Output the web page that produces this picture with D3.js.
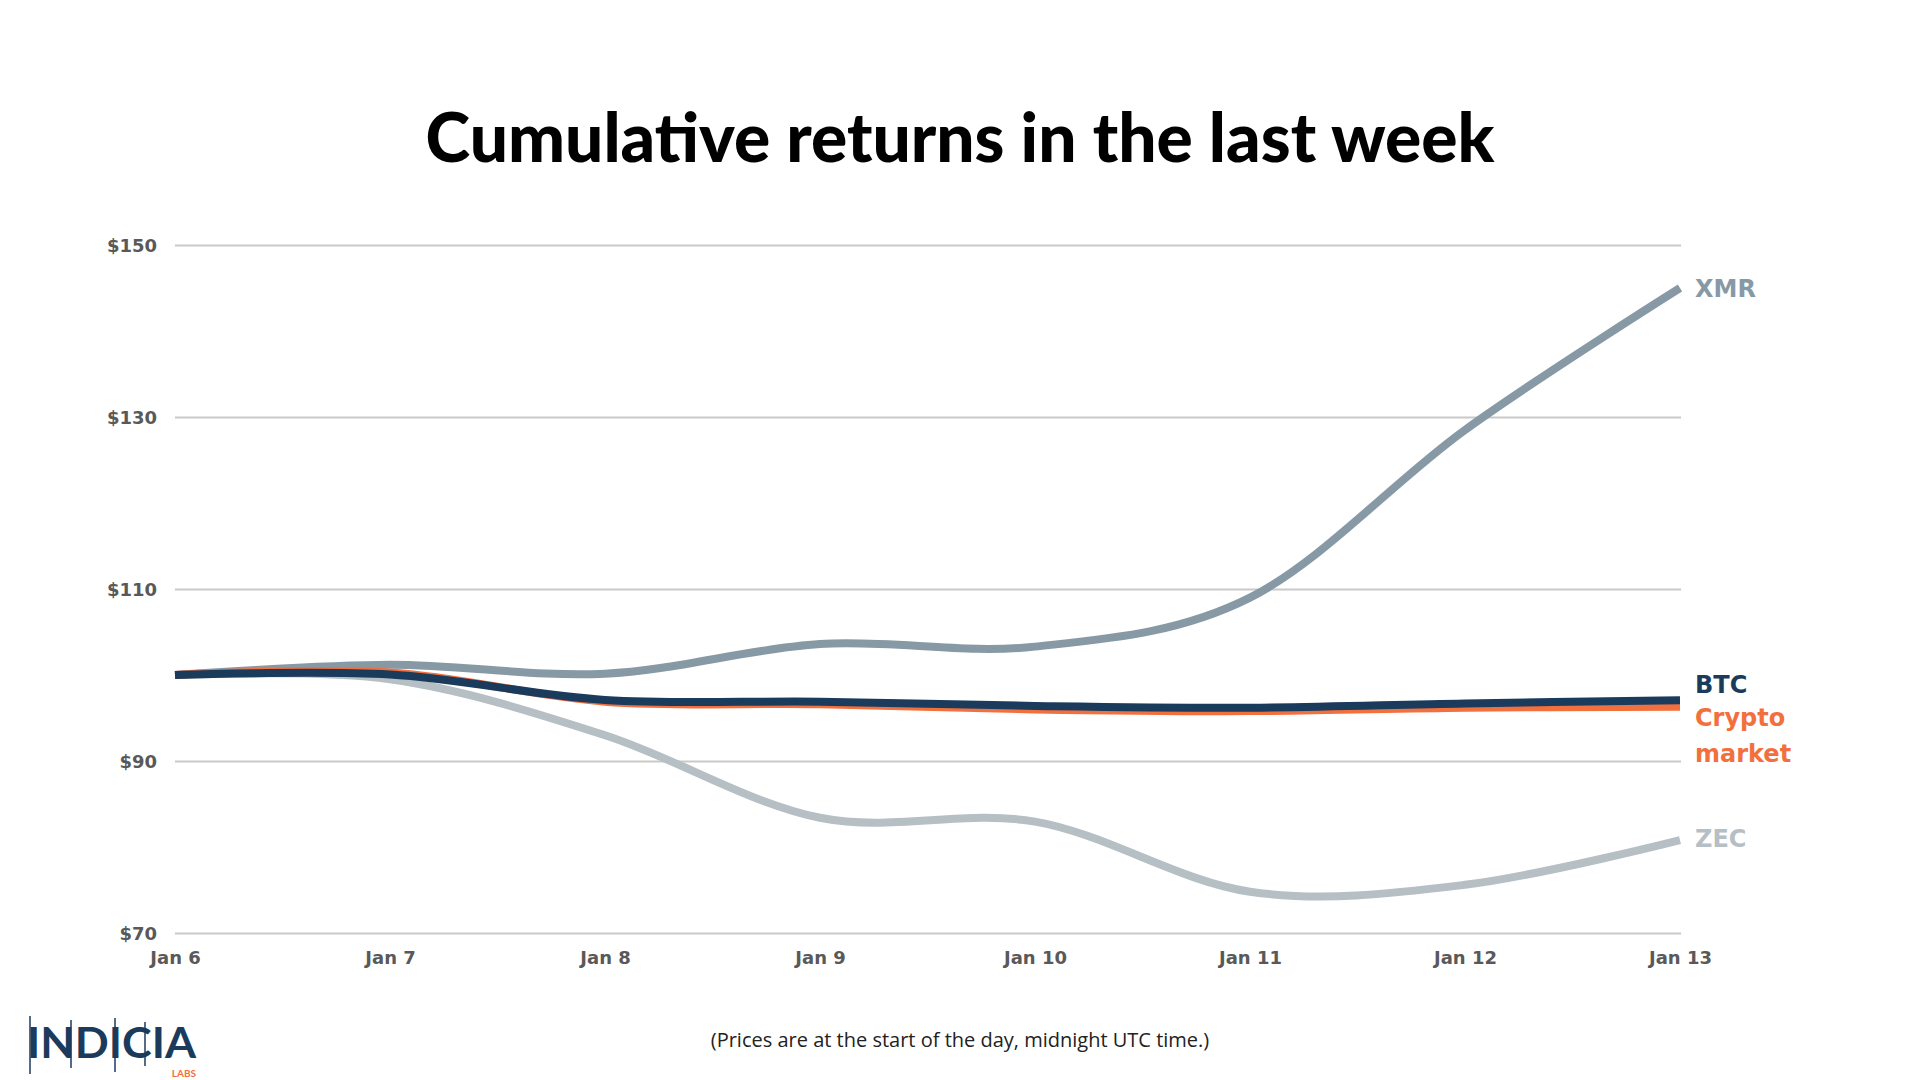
<!DOCTYPE html>
<html>
<head>
<meta charset="utf-8">
<script src="https://cdn.jsdelivr.net/npm/d3@7"></script>
<style>
  html, body { margin: 0; padding: 0; background: #ffffff; }
  svg { display: block; }
</style>
</head>
<body>
<svg id="chart" width="1920" height="1080"></svg>
<script>
// ---- data ----
const dates = ["Jan 6", "Jan 7", "Jan 8", "Jan 9", "Jan 10", "Jan 11", "Jan 12", "Jan 13"];
const xmrValues    = [100, 101.2, 100.15, 103.6, 103.3, 109.0, 128.5, 145.0];
const zecValues    = [100, 99.5, 93.0, 83.4, 82.95, 74.8, 75.6, 80.8];
const marketValues = [100, 100.3, 96.9, 96.6, 96.0, 95.8, 96.2, 96.3];
const btcValues    = [100, 100.05, 97.1, 96.9, 96.4, 96.2, 96.7, 97.05];
const yTicks = [70, 90, 110, 130, 150];
const seriesNames = ["ZEC", "XMR", "Crypto market", "BTC"];

const titleText = "Cumulative returns in the last week";
const footnoteText = "(Prices are at the start of the day, midnight UTC time.)";

(function () {
// ---- layout ----
const svg = d3.select("#chart");
const pLeft = 175, pRight = 1680, pTop = 245, pBottom = 933;

const x = d3.scalePoint().domain(dates).range([pLeft, pRight]);
const y = d3.scaleLinear().domain([70, 150]).range([pBottom, pTop]);

const colors = {
  "XMR": "#8899a6",
  "ZEC": "#b6bfc4",
  "Crypto market": "#f26f3e",
  "BTC": "#1b3b5d"
};
const valuesOf = {
  "XMR": xmrValues, "ZEC": zecValues, "Crypto market": marketValues, "BTC": btcValues
};

// title
const t = svg.append("text")
  .attr("x", 960).attr("y", 162)
  .attr("text-anchor", "middle")
  .style("font-family", "Lato, 'DejaVu Sans', sans-serif")
  .style("font-weight", 900)
  .style("font-size", "60px")
  .attr("fill", "#000")
  .text(titleText);
const tw = t.node().getComputedTextLength();
if (tw > 0) t.style("font-size", (60 * 1069 / tw).toFixed(2) + "px");

// gridlines via axis
const yAxis = d3.axisLeft(y).tickValues(yTicks)
  .tickSize(-(pRight - pLeft + 1))
  .tickFormat(d => "$" + d);
const gy = svg.append("g").attr("transform", `translate(${pLeft},0)`).call(yAxis);
gy.select(".domain").remove();
gy.selectAll(".tick line").attr("stroke", "#c9c9c9").attr("stroke-width", 2);
gy.selectAll(".tick text")
  .attr("x", -18)
  .attr("dy", "0.35em")
  .attr("fill", "#595959")
  .style("font-family", "'DejaVu Sans', sans-serif")
  .style("font-weight", "bold")
  .style("font-size", "18px");

const xAxis = d3.axisBottom(x).tickSize(0);
const gx = svg.append("g").attr("transform", `translate(0,${pBottom})`).call(xAxis);
gx.select(".domain").remove();
gx.selectAll(".tick text")
  .attr("y", 25)
  .attr("dy", "0.35em")
  .attr("fill", "#595959")
  .style("font-family", "'DejaVu Sans', sans-serif")
  .style("font-weight", "bold")
  .style("font-size", "18px");

// lines
const line = d3.line()
  .x((d, i) => x(dates[i]))
  .y(d => y(d))
  .curve(d3.curveCardinal.tension(0));

seriesNames.forEach(name => {
  svg.append("path")
    .datum(valuesOf[name])
    .attr("fill", "none")
    .attr("stroke", colors[name])
    .attr("stroke-width", 8)
    .attr("stroke-linecap", "butt")
    .attr("stroke-linejoin", "round")
    .attr("d", line);
});

// end labels
const labelX = pRight + 15;
const labelStyle = sel => sel
  .style("font-family", "'DejaVu Sans', sans-serif")
  .style("font-weight", "bold")
  .style("font-size", "24px")
  .attr("dominant-baseline", "middle");

const last = arr => arr[arr.length - 1];
svg.append("text").attr("x", labelX).attr("y", y(last(xmrValues)) + 2)
  .attr("fill", colors["XMR"]).call(labelStyle).text("XMR");
svg.append("text").attr("x", labelX).attr("y", y(last(btcValues)) - 14)
  .attr("fill", colors["BTC"]).call(labelStyle).text("BTC");
svg.append("text").attr("x", labelX).attr("y", y(last(marketValues)) + 12)
  .attr("fill", colors["Crypto market"]).call(labelStyle).text("Crypto");
svg.append("text").attr("x", labelX).attr("y", y(last(marketValues)) + 48)
  .attr("fill", colors["Crypto market"]).call(labelStyle).text("market");
svg.append("text").attr("x", labelX).attr("y", y(last(zecValues)))
  .attr("fill", colors["ZEC"]).call(labelStyle).text("ZEC");

// footnote
svg.append("text")
  .attr("x", 960).attr("y", 1042)
  .attr("text-anchor", "middle")
  .attr("dominant-baseline", "middle")
  .style("font-family", "'Open Sans', sans-serif")
  .style("font-size", "20px")
  .attr("fill", "#222")
  .text(footnoteText);

// logo
const logo = svg.append("g").attr("transform", "translate(27,1058)");
logo.append("text")
  .attr("x", 0).attr("y", 0)
  .attr("textLength", 169)
  .attr("lengthAdjust", "spacingAndGlyphs")
  .style("font-family", "Lato, sans-serif")
  .style("font-weight", 700)
  .style("font-size", "42px")
  .attr("fill", "#1b3b5d")
  .text("INDICIA");
[[3, -42, 16], [44, -38, 10], [88, -40, 14], [118, -36, 8]].forEach(([lx, y1, y2]) => {
  logo.append("line").attr("x1", lx).attr("x2", lx).attr("y1", y1).attr("y2", y2)
    .attr("stroke", "#1b3b5d").attr("stroke-width", 1.5);
});
logo.append("text")
  .attr("x", 169).attr("y", 19)
  .attr("text-anchor", "end")
  .style("font-family", "Lato, sans-serif")
  .style("font-weight", 700)
  .style("font-size", "10px")
  .attr("fill", "#f26f3e")
  .text("LABS");
})();
</script>
</body>
</html>
